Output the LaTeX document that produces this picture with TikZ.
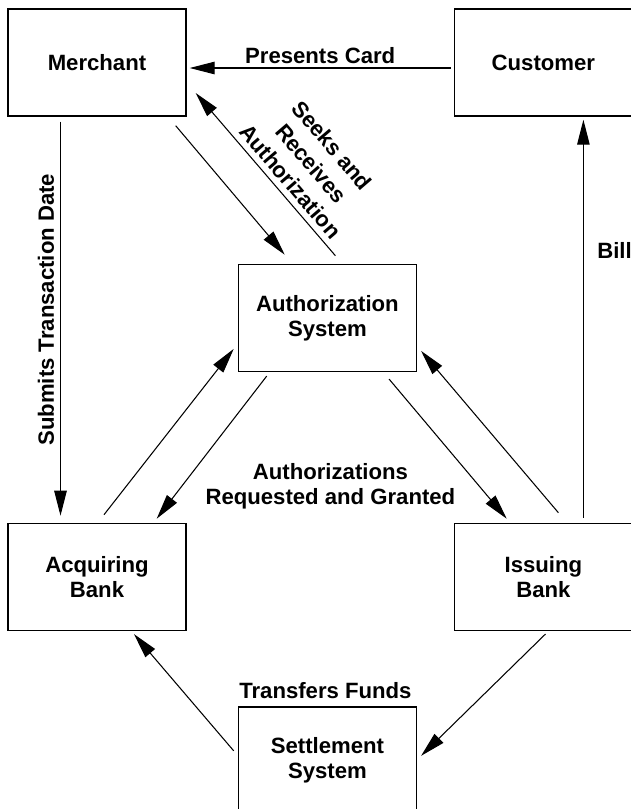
\documentclass[tikz,border=0pt]{standalone}
\usepackage{fontspec}
\setmainfont{Liberation Sans}
\usepackage{tikz}
\usetikzlibrary{arrows.meta, positioning, calc}

\begin{document}
\begin{tikzpicture}[
    font=\fontsize{12.6}{14.2}\selectfont\bfseries,
    box/.style={rectangle, draw, line width=0.8pt, minimum width=3.56cm, minimum height=2.14cm, align=center},
    lbl/.style={align=center},
    arrow/.style={->, line width=0.6pt, >={Triangle[length=0.5cm, width=0.25cm]}}
]
\useasboundingbox (-1.94,1.25) rectangle (10.68,-14.93);

% Parties
\node[box] (merchant) {Merchant};
\node[box, right=5.34cm of merchant] (customer) {Customer};

% Authorization
\node[box, below right=2.94cm and 1.02cm of merchant] (auth) {Authorization\\System};

% Banks
\node[box, below=8.12cm of merchant] (acquiring) {Acquiring\\Bank};
\node[box, below=8.12cm of customer] (issuing) {Issuing\\Bank};

% Settlement
\node[box, below=6.68cm of auth] (settlement) {Settlement\\System};

% Labels without arrows
\node[lbl, below=1.71cm of auth, xshift=0.06cm] (lblauth) {Authorizations\\Requested and Granted};
\node[lbl, above=0.02cm of settlement, xshift=-0.04cm] (lblfunds) {Transfers Funds};

% Arrows with labels
\draw[arrow] ($(customer.west)+(-0.06,-0.11)$) -- ($(merchant.east)+(0.06,-0.11)$)
    node[midway, above, inner sep=2pt] (lblcard) {Presents Card};
\draw[arrow] ($(merchant.south)+(-0.73,-0.1)$) -- ($(acquiring.north)+(-0.73,0.14)$)
    node[pos=0.477, anchor=south, rotate=90] (lblsubmit) {Submits Transaction Date};
\draw[arrow] ($(merchant.south east)+(-0.22,-0.18)$) -- ($(auth.north west)+(0.94,0.18)$);
\draw[arrow, <-] ($(merchant.east)+(0.18,-0.61)$) -- ($(auth.north)+(0.16,0.16)$)
    node[lbl, pos=0.6, sloped, above, font=\fontsize{12.6}{15.6}\selectfont\bfseries] (lblseek) {Seeks and\\Receives\\Authorization};
\draw[arrow] ($(auth.south west)+(0.58,-0.08)$) -- ($(acquiring.north east)+(-0.6,0.08)$);
\draw[arrow] ($(acquiring.north)+(0.14,0.16)$) -- ($(auth.west)+(-0.08,-0.62)$);
\draw[arrow] ($(auth.south east)+(-0.56,-0.14)$) -- ($(issuing.north west)+(1.06,0.08)$);
\draw[arrow] ($(issuing.north)+(0.3,0.2)$) -- ($(auth.east)+(0.08,-0.66)$);
\draw[arrow] ($(issuing.north)+(0.8,0.1)$) -- ($(customer.south)+(0.8,-0.06)$)
    node[pos=0.671, right, xshift=0.15cm] (lblbill) {Bill};
\draw[arrow] ($(settlement.west)+(-0.08,0.19)$) -- ($(acquiring.south)+(0.74,-0.06)$);
\draw[arrow] ($(issuing.south)+(0.04,-0.06)$) -- ($(settlement.east)+(0.08,0.09)$);

\end{tikzpicture}
\end{document}
